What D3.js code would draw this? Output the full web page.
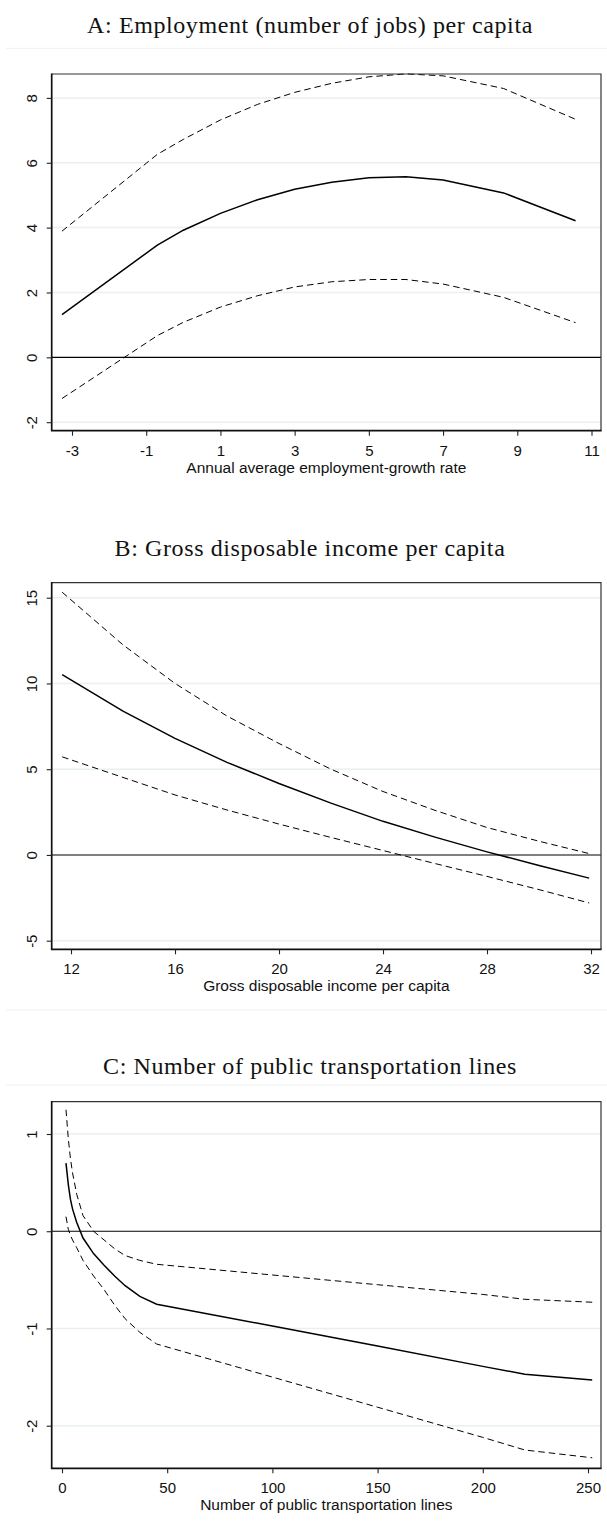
<!DOCTYPE html>
<html>
<head>
<meta charset="utf-8">
<script src="https://cdn.jsdelivr.net/npm/d3@7"></script>
<style>
  html, body { margin: 0; padding: 0; background: #fff; }
  svg { display: block; }
</style>
</head>
<body>
<svg id="chart" width="607" height="1521"></svg>
<script>
// Panel A: employment-growth rate
const aTitle = "A: Employment (number of jobs) per capita";
const aAxisTitle = "Annual average employment-growth rate";
const aX     = [-3.27, -0.70, 0, 1, 2, 3, 4, 5, 6, 7, 8.63, 10.57];
const aFit   = [1.32, 3.46, 3.92, 4.44, 4.86, 5.18, 5.40, 5.54, 5.57, 5.47, 5.07, 4.21];
const aUpper = [3.89, 6.26, 6.72, 7.32, 7.80, 8.17, 8.45, 8.65, 8.74, 8.68, 8.29, 7.34];
const aLower = [-1.27, 0.67, 1.08, 1.55, 1.90, 2.17, 2.33, 2.40, 2.40, 2.26, 1.85, 1.07];
const aXTicks = [-3, -1, 1, 3, 5, 7, 9, 11];
const aYTicks = [-2, 0, 2, 4, 6, 8];

// Panel B: gross disposable income
const bTitle = "B: Gross disposable income per capita";
const bAxisTitle = "Gross disposable income per capita";
const bX     = [11.66, 14, 16, 18, 20, 22, 24, 26, 28, 30, 31.93];
const bFit   = [10.52, 8.39, 6.80, 5.40, 4.17, 3.02, 1.96, 1.04, 0.18, -0.61, -1.35];
const bUpper = [15.32, 12.25, 10.0, 8.10, 6.50, 5.00, 3.70, 2.60, 1.60, 0.80, 0.08];
const bLower = [5.72, 4.52, 3.50, 2.62, 1.80, 1.02, 0.26, -0.50, -1.25, -2.02, -2.80];
const bXTicks = [12, 16, 20, 24, 28, 32];
const bYTicks = [-5, 0, 5, 10, 15];

// Panel C: public transportation lines
const cTitle = "C: Number of public transportation lines";
const cAxisTitle = "Number of public transportation lines";
const cX     = [1.9, 3, 4, 5, 7, 10, 15, 20, 25, 30, 37, 45, 100, 150, 200, 220, 252];
const cFit   = [0.70, 0.48, 0.33, 0.23, 0.09, -0.07, -0.23, -0.35, -0.46, -0.56, -0.67, -0.75, -0.975, -1.18, -1.39, -1.47, -1.53];
const cUpper = [1.25, 0.95, 0.75, 0.60, 0.38, 0.16, 0.00, -0.09, -0.18, -0.25, -0.30, -0.34, -0.45, -0.55, -0.65, -0.70, -0.73];
const cLower = [0.15, 0.02, -0.04, -0.09, -0.17, -0.30, -0.46, -0.60, -0.76, -0.90, -1.04, -1.16, -1.50, -1.81, -2.12, -2.25, -2.33];
const cXTicks = [0, 50, 100, 150, 200, 250];
const cYTicks = [-2, -1, 0, 1];

const panels = [
  { title: aTitle, axisTitle: aAxisTitle, x: aX, fit: aFit, upper: aUpper, lower: aLower,
    xTicks: aXTicks, yTicks: aYTicks,
    layout: { titleY: 33, rules: [48.3], box: [51.7, 74, 601, 430.7],
              xMap: [[-3, 72], [11, 591.5]], yMap: [[8, 97.9], [-2, 422.2]] } },
  { title: bTitle, axisTitle: bAxisTitle, x: bX, fit: bFit, upper: bUpper, lower: bLower,
    xTicks: bXTicks, yTicks: bYTicks,
    layout: { titleY: 556, rules: [1010], box: [51.7, 582.7, 601, 949.3],
              xMap: [[12, 71], [32, 591]], yMap: [[15, 597.7], [-5, 940.7]] } },
  { title: cTitle, axisTitle: cAxisTitle, x: cX, fit: cFit, upper: cUpper, lower: cLower,
    xTicks: cXTicks, yTicks: cYTicks,
    layout: { titleY: 1074, rules: [1085], box: [51.7, 1101.7, 601, 1468.3],
              xMap: [[0, 62], [250, 588]], yMap: [[1, 1134], [-2, 1425.7]] } }
];

const svg = d3.select("#chart");
const gridColor = "#e8f0f1";
const ruleColor = "#edf2f2";
const sans = "'Liberation Sans', Arial, sans-serif";

panels.forEach(p => {
  const L = p.layout;
  const [x0, y0, x1, y1] = L.box;
  const g = svg.append("g");

  // linear scales anchored on two tick positions each
  const x = d3.scaleLinear().domain([L.xMap[0][0], L.xMap[1][0]]).range([L.xMap[0][1], L.xMap[1][1]]);
  const y = d3.scaleLinear().domain([L.yMap[0][0], L.yMap[1][0]]).range([L.yMap[0][1], L.yMap[1][1]]);

  // panel title
  g.append("text")
    .attr("x", 310).attr("y", L.titleY)
    .attr("text-anchor", "middle")
    .attr("font-family", "'Liberation Serif', 'DejaVu Serif', serif")
    .attr("font-size", 24)
    .attr("letter-spacing", 0.6)
    .attr("fill", "#111")
    .text(p.title);

  L.rules.forEach(ry => {
    g.append("line").attr("x1", 6).attr("x2", 607).attr("y1", ry).attr("y2", ry)
      .attr("stroke", ruleColor).attr("stroke-width", 1);
  });

  // horizontal grid (zero gets a black reference line instead)
  g.selectAll(".grid").data(p.yTicks.filter(t => t !== 0)).enter().append("line")
    .attr("x1", x0).attr("x2", x1)
    .attr("y1", d => y(d)).attr("y2", d => y(d))
    .attr("stroke", gridColor).attr("stroke-width", 1.5);

  g.append("line")
    .attr("x1", x0).attr("x2", x1).attr("y1", y(0)).attr("y2", y(0))
    .attr("stroke", "#000").attr("stroke-width", 1.1);

  // estimate and confidence bounds
  const pts = arr => p.x.map((v, i) => [v, arr[i]]);
  const line = d3.line().x(d => x(d[0])).y(d => y(d[1]));

  [p.upper, p.lower].forEach(arr => {
    g.append("path").attr("d", line(pts(arr)))
      .attr("fill", "none").attr("stroke", "#000").attr("stroke-width", 1)
      .attr("stroke-dasharray", "6.5,4");
  });
  g.append("path").attr("d", line(pts(p.fit)))
    .attr("fill", "none").attr("stroke", "#000").attr("stroke-width", 1.5);

  // plot region outline: lighter top/right, heavier axis lines
  g.append("path")
    .attr("d", `M${x0},${y0}H${x1}V${y1}`)
    .attr("fill", "none").attr("stroke", "#333").attr("stroke-width", 1.2);
  g.append("path")
    .attr("d", `M${x0},${y0 - 0.6}V${y1}H${x1 + 0.6}`)
    .attr("fill", "none").attr("stroke", "#111").attr("stroke-width", 1.7);

  // axes
  const fmt = d => String(d);
  const xAxis = d3.axisBottom(x).tickValues(p.xTicks).tickSize(5).tickPadding(9.5).tickFormat(fmt);
  const gx = g.append("g").attr("transform", `translate(0,${y1})`).call(xAxis);
  gx.select(".domain").remove();

  const yAxis = d3.axisLeft(y).tickValues(p.yTicks).tickSize(5).tickPadding(0).tickFormat(fmt);
  const gy = g.append("g").attr("transform", `translate(${x0},0)`).call(yAxis);
  gy.select(".domain").remove();
  gy.selectAll(".tick text")
    .attr("x", -18.5).attr("dy", 0)
    .attr("transform", "rotate(-90,-18.5,0)")
    .attr("text-anchor", "middle")
    .attr("dominant-baseline", "middle");

  [gx, gy].forEach(a => {
    a.selectAll(".tick line").attr("stroke", "#222").attr("stroke-width", 1.1);
    a.selectAll(".tick text")
      .attr("font-family", sans)
      .attr("font-size", 15).attr("fill", "#111");
  });

  g.append("text")
    .attr("x", (x0 + x1) / 2).attr("y", y1 + 42)
    .attr("text-anchor", "middle")
    .attr("font-family", sans)
    .attr("font-size", 15.5).attr("fill", "#111")
    .text(p.axisTitle);
});
</script>
</body>
</html>
